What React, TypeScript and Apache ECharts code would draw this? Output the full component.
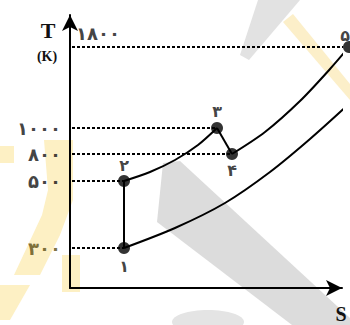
import React, { useEffect, useRef } from 'react';
import * as echarts from 'echarts';

// Temperature guide levels (schematic height on the diagram) and their labels
const tempLabels = ['۳۰۰', '۵۰۰', '۸۰۰', '۱۰۰۰', '۱۸۰۰'];
const tempLevels = [40, 107, 134, 160, 241];
// state each temperature's dashed guide runs to (index into states)
const tempState = [0, 1, 3, 2, 4];

// State points 1..5 (schematic S, schematic T height)
const stateNames = ['۱', '۲', '۳', '۴', '۵'];
const stateS = [54, 54, 147, 162, 279];
const stateT = [40, 107, 160, 134, 241];

// Curve 2 -> 3
const curve23S = [54, 80, 105, 128, 147];
const curve23T = [107, 116, 128, 143, 160];
// Curve 4 -> 5
const curve45S = [162, 195, 230, 260, 279];
const curve45T = [134, 156, 187, 219, 241];
// Lower curve from 1
const lowerS = [54, 105, 155, 200, 240, 280];
const lowerT = [40, 60, 85, 116, 149, 185];

const S_MAX = 272;
const T_MAX = 273;

const zip = (a: number[], b: number[]) => a.map((v, i) => [v, b[i]]);

export default function App() {
  const ref = useRef<HTMLDivElement>(null);
  useEffect(() => {
    if (!ref.current) return;
    const chart = echarts.init(ref.current, null, { renderer: 'svg' });
    const black = '#000';
    const digitFont = { fontFamily: 'DejaVu Sans', fontWeight: 'bold' as const, fontSize: 18, color: '#111' };
    const solid = (data: number[][]) => ({
      type: 'line', data, smooth: 0.3, symbol: 'none', clip: false, silent: true,
      lineStyle: { color: black, width: 2 }, z: 3,
    });
    const guides = tempLevels.map((lv, i) => ({
      type: 'line', symbol: 'none', clip: false, silent: true, z: 2,
      data: [[2, lv], [stateS[tempState[i]], stateT[tempState[i]]]],
      lineStyle: { color: black, width: 2, type: [3, 2] },
    }));
    const labelOffsets: any[] = [
      { position: 'bottom', distance: 4 },
      { position: 'top', distance: 2 },
      { position: 'top', distance: 3 },
      { position: 'bottom', distance: 2 },
      { position: 'top', distance: 0, offset: [-4, 2] },
    ];
    const option: any = {
      animation: false,
      grid: { left: 70, right: 8, top: 15, bottom: 37 },
      xAxis: {
        type: 'value', min: 0, max: S_MAX,
        axisLine: { show: true, symbol: ['none', 'arrow'], symbolSize: [12, 16], lineStyle: { color: black, width: 2 } },
        axisTick: { show: false }, axisLabel: { show: false }, splitLine: { show: false },
      },
      yAxis: {
        type: 'value', min: 0, max: T_MAX,
        axisLine: { show: true, symbol: ['none', 'arrow'], symbolSize: [12, 16], lineStyle: { color: black, width: 2 } },
        axisTick: { show: false }, axisLabel: { show: false }, splitLine: { show: false },
      },
      graphic: [
        // faint watermark shapes
        { type: 'polygon', z: -10, silent: true, shape: { points: [[163, 163], [180, 161], [350, 318], [350, 325], [292, 325], [157, 222]] }, style: { fill: '#dcdcdc' } },
        { type: 'polygon', z: -10, silent: true, shape: { points: [[258, 0], [300, 0], [249, 60], [240, 55]] }, style: { fill: '#e2e2e2' } },
        { type: 'polygon', z: -10, silent: true, shape: { points: [[283, 22], [293, 14], [350, 84], [350, 100]] }, style: { fill: '#fcefc9' } },
        { type: 'ellipse', z: -10, silent: true, shape: { cx: 208, cy: 322, rx: 36, ry: 12 }, style: { fill: '#e4e4e4' } },
        { type: 'polygon', z: -10, silent: true, shape: { points: [[44, 140], [73, 140], [73, 200], [60, 235], [40, 275], [14, 275], [42, 215], [48, 190]] }, style: { fill: '#fdf0c4' } },
        { type: 'polygon', z: -10, silent: true, shape: { points: [[0, 146], [14, 146], [14, 163], [0, 163]] }, style: { fill: '#fdf0c4' } },
        { type: 'polygon', z: -10, silent: true, shape: { points: [[62, 255], [80, 255], [80, 292], [62, 292]] }, style: { fill: '#fdf0c4' } },
        { type: 'polygon', z: -10, silent: true, shape: { points: [[0, 285], [30, 285], [10, 320], [0, 320]] }, style: { fill: '#fdf0c4' } },
        // axis titles
        { type: 'text', x: 48, y: 30, style: { text: 'T', font: 'bold 22px "Liberation Serif"', fill: '#111', align: 'center', verticalAlign: 'middle' } },
        { type: 'text', x: 47, y: 56, style: { text: '(K)', font: 'bold 14px "Liberation Serif"', fill: '#111', align: 'center', verticalAlign: 'middle' } },
        { type: 'text', x: 341, y: 314, style: { text: 'S', font: 'bold 20px "Liberation Serif"', fill: '#111', align: 'center', verticalAlign: 'middle' } },
      ],
      series: [
        ...guides,
        solid([[stateS[0], stateT[0]], [stateS[1], stateT[1]]]),
        solid(zip(curve23S, curve23T)),
        solid([[stateS[2], stateT[2]], [stateS[3], stateT[3]]]),
        solid(zip(curve45S, curve45T)),
        solid(zip(lowerS, lowerT)),
        {
          type: 'scatter', clip: false, silent: true, z: 5, symbolSize: 12,
          itemStyle: { color: black },
          data: stateNames.map((n, i) => ({
            value: [stateS[i], stateT[i]], name: n,
            label: { show: true, formatter: n, ...digitFont, fontSize: 16, ...labelOffsets[i] },
          })),
        },
        {
          type: 'scatter', clip: false, silent: true, z: 5, symbolSize: 0,
          data: tempLabels.map((t, i) => ({
            value: [0, tempLevels[i]], name: t,
            label: i === 4
              ? { show: true, formatter: t, position: 'right', distance: 6, offset: [0, -14], ...digitFont }
              : { show: true, formatter: t, position: 'left', distance: 9, ...digitFont, color: i === 0 ? '#5c4d12' : '#111' },
          })),
        },
      ],
    };
    chart.setOption(option);
    return () => chart.dispose();
  }, []);
  return <div ref={ref} style={{ position: 'fixed', left: 0, top: 0, width: 350, height: 325, background: '#fff' }} />;
}
